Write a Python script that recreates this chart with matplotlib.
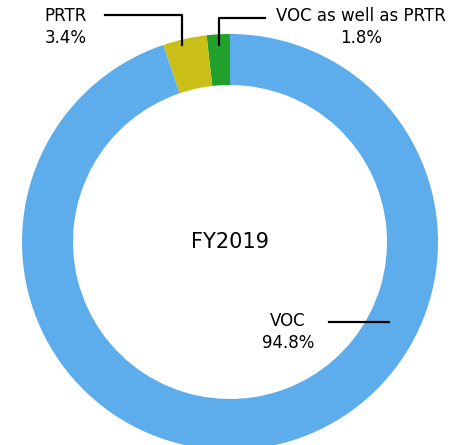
import numpy as np
import matplotlib.pyplot as plt

# Share of chemical substances, FY2019
labels = ["VOC as well as PRTR", "PRTR", "VOC"]
shares = [1.8, 3.4, 94.8]
colors = ["#21A12B", "#C9BF16", "#5DADEC"]
center_label = "FY2019"

W, H = 452, 445
fig = plt.figure(figsize=(W / 100, H / 100), dpi=100)
ax = fig.add_axes([0, 0, 1, 1])

cx, cy, R = 230, H - 242, 208
wedges, _ = ax.pie(shares, colors=colors, startangle=90, counterclock=True,
                   center=(cx, cy), radius=R, frame=True,
                   wedgeprops=dict(width=51, linewidth=0))
ax.set_xlim(0, W)
ax.set_ylim(0, H)
ax.set_aspect("equal")
ax.axis("off")

ax.text(cx, cy, center_label, ha="center", va="center", fontsize=15,
        color="black")

# x position of a leader line on a slice's mid-angle
def anchor_x(i, r=198):
    w = wedges[i]
    a = np.deg2rad((w.theta1 + w.theta2) / 2)
    return cx + r * np.cos(a)

lw = 1.6
fs = 12
ls = 1.3
# VOC as well as PRTR
x0 = anchor_x(0)
ax.plot([x0, x0, 265], [H - 45, H - 18, H - 18], color="black", lw=lw)
ax.text(361, H - 27, f"{labels[0]}\n{shares[0]}%", ha="center", va="center",
        fontsize=fs, linespacing=ls)
# PRTR
x1 = anchor_x(1) - 5
ax.plot([105, x1, x1], [H - 15, H - 15, H - 45], color="black", lw=lw)
ax.text(66, H - 27, f"{labels[1]}\n{shares[1]}%", ha="center", va="center",
        fontsize=fs, linespacing=ls)
# VOC
ax.plot([329, 389], [H - 322, H - 322], color="black", lw=lw)
ax.text(288, H - 332, f"{labels[2]}\n{shares[2]}%", ha="center", va="center",
        fontsize=fs, linespacing=ls)

fig.savefig("out.png", dpi=100)
